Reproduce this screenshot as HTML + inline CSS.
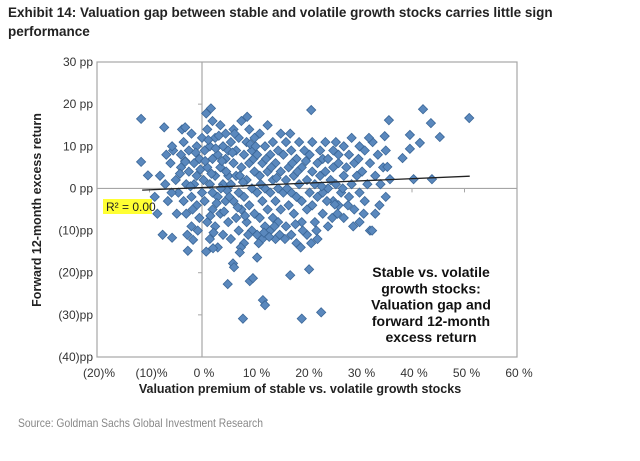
<!DOCTYPE html>
<html><head><meta charset="utf-8">
<style>
body{margin:0;width:640px;height:461px;background:#fff;overflow:hidden;font-family:"Liberation Sans",Arial,sans-serif;}
#wrap{position:relative;width:640px;height:461px;}
.t{position:absolute;white-space:nowrap;}
</style></head>
<body>
<div id="wrap">
<div class="t" style="left:8px;top:3px;font-size:13.5px;font-weight:bold;line-height:19px;color:#222;">Exhibit 14: Valuation gap between stable and volatile growth stocks carries little sign<br>performance</div>
<svg id="chart" width="640" height="461" style="position:absolute;left:0;top:0"></svg>
<div class="t" style="left:18px;top:416px;font-size:12px;color:#888;transform:scaleX(0.86);transform-origin:0 0;">Source: Goldman Sachs Global Investment Research</div>
</div>
<script>
const xTickLabels=["(20)%","(10)%","0 %","10 %","20 %","30 %","40 %","50 %","60 %"];
const xTickValues=[-20,-10,0,10,20,30,40,50,60];
const yTickLabels=["30 pp","20 pp","10 pp","0 pp","(10)pp","(20)pp","(30)pp","(40)pp"];
const yTickValues=[30,20,10,0,-10,-20,-30,-40];
const xValues=[
-5,-4.5,-4,-4,-3.5,-3.5,-3,-3,-2.5,-2.5,-2,-2,-2,-1.5,-1.5,-1,-1,-1,-0.5,-0.5,0,0,-6,-6.5,-7,-8,-5.5,-4.8,-3.8,-2.8,-1.8,-0.8,-4.2,-3.2,-2.2,-1.2,-0.3,-5.8,-6.8,-9,-8.5,-7.5,
0.5,0.5,1,1,1,1.5,1.5,1.5,2,2,2,2,2.5,2.5,2.5,3,3,3,3.5,3.5,3.5,4,4,4,4.5,4.5,4.5,5,5,5,0.8,1.8,2.8,3.8,4.8,0.3,1.2,2.2,3.2,4.2,4.6,3.6,2.6,1.6,0.6,
5.5,5.5,5.5,6,6,6,6.5,6.5,6.5,7,7,7,7.5,7.5,7.5,8,8,8,8.5,8.5,8.5,9,9,9,9.5,9.5,9.5,10,10,10,5.8,6.8,7.8,8.8,9.8,6.2,7.2,8.2,9.2,5.2,8.6,7.4,
10.5,10.5,10.5,11,11,11,11.5,11.5,11.5,12,12,12,12.5,12.5,12.5,13,13,13,13.5,13.5,13.5,14,14,14,14.5,14.5,14.5,15,15,15,10.8,11.8,12.8,13.8,14.8,11.2,12.2,13.2,14.2,10.2,
15.5,15.5,16,16,16,16.5,16.5,17,17,17,17.5,17.5,18,18,18,18.5,18.5,19,19,19,19.5,20,20,20,15.8,16.8,17.8,18.8,19.8,16.2,17.2,18.2,19.2,
20.5,20.5,21,21,21,21.5,21.5,22,22,22,22.5,22.5,23,23,23,23.5,23.5,24,24,24,24.5,25,25,25,20.8,21.8,22.8,23.8,24.8,
25.5,25.5,26,26,26,26.5,27,27,27,27.5,28,28,28.5,28.5,29,29,29.5,30,30,30,25.8,26.8,27.8,28.8,29.8,
30.5,31,31,31.5,32,32,32.5,33,33,33.5,34,34.5,35,35,31.8,33.8,30.8,
-11.6,-11.6,-10.3,-5.7,-7.2,-3.2,-3.2,1.7,0.8,20.8,42.1,50.9,43.6,45.3,35.6,34.8,39.6,39.6,38.2,35.3,35.8,40.3,43.8,41.5,7.8,19,22.7,11.6,12,4.9,9.1,9.7,16.8,20.4,5.9,6.1,-5.7,-2.7,-1.7,10.5,7.2,2.1,25.3,32.4];
const yValues=[
2,-1,5,8,-3,11,1,-6,4,9,-2,13,-9,6,1,-4,10,3,-7,7,-1,12,6,-3,1,3,9,-6,14,-11,-5,-10,3.5,6.5,0.5,8.5,4.5,-1,8,-2,-6,-11,
9,-3,5,-8,14,1,-12,10,7,-1,-5,16,3,-9,12,-2,8,-14,5,-6,15,1,10,-11,-3,7,13,-8,3,9,-15,3.5,-3.5,6.5,-0.5,2,11.5,-10.5,12.5,-5.5,4,0,9.5,-6.5,6.5,
1,-12,11,6,-3,14,-7,3,9,-1,12,-10,5,-5,16,8,-2,-13,2,11,-8,6,-4,14,0,9,-10,4,-6,12,8.5,-4.5,1.5,-11,7,13,3,-6.5,10.5,-2,17,-14,
-1,8,-11,3,-7,13,6,-3,-12,10,0,-9,4,-5,15,8,-1,-10,2,11,-7,6,-3,-12,9,0,-8,4,-5,13,-13,-10.5,-11.5,-9,-11,1,7,5,2.5,10,
-1,8,2,-9,11,5,-4,9,-1,-11,3,-6,7,-2,-13,11,1,5,-8,-3,9,2,-5,-11,-12,13,-8.5,-14,6.5,0,6,4,-10,
8,-1,4,-4,11,1,-8,6,-2,-12,9,3,-1,7,-6,4,11,0,-9,7,2,-3,9,5,-13,-10,0.5,-3,-7,
1,11,-4,6,8,-1,3,10,-7,5,-2,8,1,12,-5,6,3,10,-1,-8,-6,0,-4,-9,7,
4,9,-3,1,6,-10,11,3,-6,8,1,5,-2,9,12,-4,-6,
16.5,6.3,3.1,10,14.5,14.5,6.3,19,17.8,18.6,18.8,16.7,15.5,12.2,16.2,12.4,12.7,9.4,7.2,5.1,2.2,2.2,2.2,10.8,-30.9,-30.9,-29.4,-26.5,-27.7,-22.7,-22,-21.3,-20.6,-19.2,-17.8,-18.7,-11.7,-14.8,-12.2,-16.4,-15.2,-14.2,-3.8,-10];
const trendX=[-11.4,51];
const trendY=[-0.4,2.9];

const NS="http://www.w3.org/2000/svg";
const svg=document.getElementById('chart');
const L=97,R=517,T=62,B=357;
const sx=v=>L+(v+20)/80*(R-L);
const sy=v=>T+(30-v)/70*(B-T);
function mk(tag,attrs,parent){const e=document.createElementNS(NS,tag);for(const k in attrs)e.setAttribute(k,attrs[k]);(parent||svg).appendChild(e);return e;}

const frame=mk('rect',{x:L,y:T,width:R-L,height:B-T,fill:'none',stroke:'#a6a6a6','stroke-width':1.2});


const vax=mk('line',{x1:sx(0),x2:sx(0),y1:T,y2:B,stroke:'#a6a6a6','stroke-width':1.2});


const hax=mk('line',{x1:L,x2:R,y1:sy(0),y2:sy(0),stroke:'#a6a6a6','stroke-width':1.2});



xTickValues.forEach((v,i)=>{
  const tk=mk('line',{x1:sx(v),x2:sx(v),y1:sy(0),y2:sy(0)+4,stroke:'#a6a6a6'});
  
  
  const t=mk('text',{x:sx(v)+2,y:377,'text-anchor':'middle','font-size':12,fill:'#333','font-family':'Liberation Sans, sans-serif'});
  t.textContent=xTickLabels[i];
  
  
});
yTickValues.forEach((v,i)=>{
  const tk=mk('line',{x1:sx(0)-4,x2:sx(0),y1:sy(v),y2:sy(v),stroke:'#a6a6a6'});
  
  
  const t=mk('text',{x:93,y:sy(v)+4,'text-anchor':'end','font-size':12,fill:'#333','font-family':'Liberation Sans, sans-serif'});
  t.textContent=yTickLabels[i];
  
  
});

const g=mk('g',{});


for(let i=0;i<xValues.length;i++){
  const cx=sx(xValues[i]),cy=sy(yValues[i]),r=4.6;
  const p=mk('polygon',{points:`${cx},${cy-r} ${cx+r},${cy} ${cx},${cy+r} ${cx-r},${cy}`,fill:'#5a88bd',stroke:'#3b6798','stroke-width':0.8},g);
  
  
}
const tl=mk('line',{x1:sx(trendX[0]),y1:sy(trendY[0]),x2:sx(trendX[1]),y2:sy(trendY[1]),stroke:'#222','stroke-width':1.3});



const rb=mk('rect',{x:103,y:199,width:49,height:15,fill:'#ffff33'});


const rt=mk('text',{x:106,y:211,'font-size':12,fill:'#222','font-family':'Liberation Sans, sans-serif'});
rt.textContent='R² = 0.00';



const ann=["Stable vs. volatile","growth stocks:","Valuation gap and","forward 12-month","excess return"];
ann.forEach((s,i)=>{
  const t=mk('text',{x:431,y:277+i*16.3,'text-anchor':'middle','font-size':14,'font-weight':'bold',fill:'#111','font-family':'Liberation Sans, sans-serif'});
  t.textContent=s;
  
  
});
const xt=mk('text',{x:300,y:393,'text-anchor':'middle','font-size':12.5,'font-weight':'bold',fill:'#222','font-family':'Liberation Sans, sans-serif'});
xt.textContent='Valuation premium of stable vs. volatile growth stocks';


const yt=mk('text',{x:0,y:0,'text-anchor':'middle','font-size':12.5,'font-weight':'bold',fill:'#222','font-family':'Liberation Sans, sans-serif',transform:'translate(41,210) rotate(-90)'});
yt.textContent='Forward 12-month excess return';


</script>
</body></html>
